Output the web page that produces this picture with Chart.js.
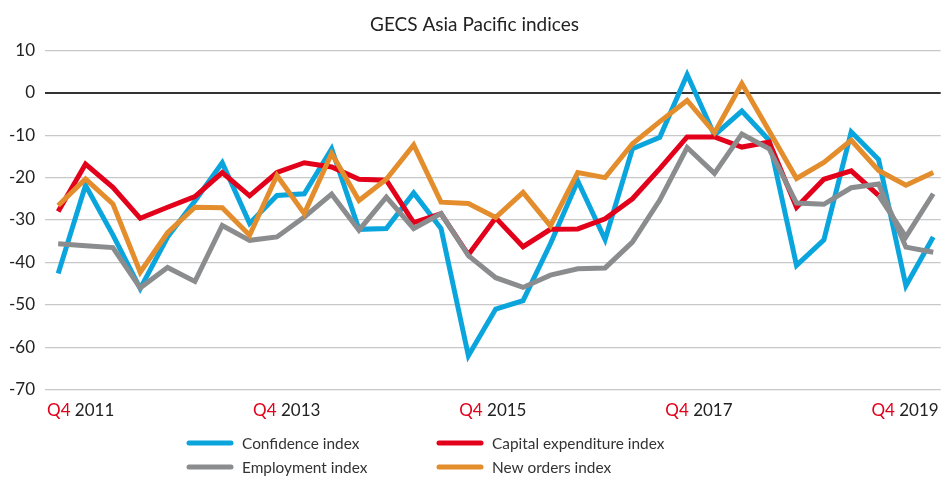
<!DOCTYPE html>
<html>
<head>
<meta charset="utf-8">
<script src="https://cdn.jsdelivr.net/npm/chart.js@4"></script>
<style>
  html, body { margin: 0; padding: 0; background: #fff; }
  #wrap { width: 949px; height: 478px; position: relative; }
</style>
</head>
<body>
<div id="wrap"><canvas id="gecsChart"></canvas></div>
<script>
// quarters Q4 2011 .. Q4 2019
const quarters = [
  'Q4 2011', 'Q1 2012', 'Q2 2012', 'Q3 2012', 'Q4 2012',
  'Q1 2013', 'Q2 2013', 'Q3 2013', 'Q4 2013',
  'Q1 2014', 'Q2 2014', 'Q3 2014', 'Q4 2014',
  'Q1 2015', 'Q2 2015', 'Q3 2015', 'Q4 2015',
  'Q1 2016', 'Q2 2016', 'Q3 2016', 'Q4 2016',
  'Q1 2017', 'Q2 2017', 'Q3 2017', 'Q4 2017',
  'Q1 2018', 'Q2 2018', 'Q3 2018', 'Q4 2018',
  'Q1 2019', 'Q2 2019', 'Q3 2019', 'Q4 2019'
];
const xTickLabels = ['Q4 2011', 'Q4 2013', 'Q4 2015', 'Q4 2017', 'Q4 2019'];
const yTicks = [10, 0, -10, -20, -30, -40, -50, -60, -70];

const confidence = [-42.6, -21.8, -33.5, -46.2, -34, -25.5, -16.5, -30.8, -24.2, -23.8, -13.2, -32.2, -32,
  -23.6, -32, -62, -51, -49, -35.6, -20.8, -34.6, -13.2, -10.5, 4.3, -10, -4.3, -11.2, -40.7, -34.7,
  -9.2, -15.7, -45.5, -34];
const capex = [-28, -16.8, -22.3, -29.6, -27, -24.5, -18.8, -24.3, -18.8, -16.5, -17.5, -20.4, -20.6,
  -30.6, -28.5, -38.2, -29.5, -36.3, -32.2, -32.1, -29.7, -25, -17.9, -10.4, -10.4, -12.8, -11.6, -27,
  -20.4, -18.4, -24.2, -34, -23.8];
const employment = [-35.6, -36.1, -36.5, -46, -41.2, -44.5, -31.3, -34.8, -34, -29.3, -23.9, -32.4, -24.6,
  -32, -28.5, -38.4, -43.6, -45.9, -43, -41.5, -41.3, -35.2, -25.3, -12.9, -19, -9.7, -13.2, -26, -26.3,
  -22.4, -21.5, -36.4, -37.6];
const newOrders = [-26.6, -20.3, -26.2, -42.3, -33, -27, -27.1, -33.6, -19.5, -28.5, -14.3, -25.4, -20.4,
  -12.3, -25.8, -26.1, -29.4, -23.5, -31.4, -18.8, -20, -12, -6.8, -1.8, -9.4, 2.2, -9, -20.2, -16.4,
  -11.2, -18.3, -21.8, -18.8];

const BLUE = '#0aa5dd', RED = '#e3001b', GREY = '#8a8c8e', ORANGE = '#e38d2d';
const FONT = 'Lato, "Noto Sans", sans-serif';

const toPoints = arr => arr.map((v, i) => ({ x: i, y: v }));

// x labels: red "Q4", dark year
const quarterTicks = {
  id: 'quarterTicks',
  afterDraw(chart) {
    const s = chart.scales.x2;
    const ctx = chart.ctx;
    ctx.save();
    ctx.font = '17px ' + FONT;
    ctx.textBaseline = 'middle';
    ctx.textAlign = 'left';
    s.ticks.forEach((t, i) => {
      const parts = xTickLabels[i].split(' ');
      const q = parts[0] + ' ';
      const w1 = ctx.measureText(q).width;
      const w2 = ctx.measureText(parts[1]).width;
      const x = s.getPixelForValue(t.value) - (w1 + w2) / 2;
      const y = s.top + 21;
      ctx.fillStyle = RED;
      ctx.fillText(q, x, y);
      ctx.fillStyle = '#222';
      ctx.fillText(parts[1], x + w1, y);
    });
    ctx.restore();
  }
};

// two column legend under the chart
const gridLegend = {
  id: 'gridLegend',
  afterDraw(chart) {
    const ctx = chart.ctx;
    const cols = [187, 437];
    const rows = [443, 467];
    ctx.save();
    chart.data.datasets.forEach((ds, i) => {
      const x = cols[i % 2];
      const y = rows[Math.floor(i / 2)];
      ctx.strokeStyle = ds.borderColor;
      ctx.lineWidth = 5;
      ctx.lineCap = 'round';
      ctx.beginPath();
      ctx.moveTo(x + 2, y);
      ctx.lineTo(x + 44, y);
      ctx.stroke();
      ctx.fillStyle = '#333';
      ctx.font = '15.4px ' + FONT;
      ctx.textBaseline = 'middle';
      ctx.fillText(ds.label, x + 55, y + 1);
    });
    ctx.restore();
  }
};

new Chart(document.getElementById('gecsChart'), {
  type: 'line',
  data: {
    datasets: [
      { label: 'Confidence index', data: toPoints(confidence), borderColor: BLUE, order: 4 },
      { label: 'Capital expenditure index', data: toPoints(capex), borderColor: RED, order: 3,
        segment: { borderColor: c => c.p0DataIndex >= 30 ? GREY : undefined } },
      { label: 'Employment index', data: toPoints(employment), borderColor: GREY, order: 2 },
      { label: 'New orders index', data: toPoints(newOrders), borderColor: ORANGE, order: 1 }
    ]
  },
  options: {
    responsive: true,
    maintainAspectRatio: false,
    animation: false,
    layout: { padding: { top: 0, left: 0, right: 0, bottom: 40 } },
    elements: {
      line: { borderWidth: 5, tension: 0, fill: false },
      point: { radius: 0, hoverRadius: 0 }
    },
    plugins: {
      legend: { display: false },
      tooltip: { enabled: false },
      title: {
        display: true,
        text: 'GECS Asia Pacific indices',
        color: '#222',
        font: { family: FONT, size: 19, weight: 'normal' },
        padding: { top: 13.6, bottom: 14 }
      }
    },
    scales: {
      x: {
        type: 'linear',
        display: false,
        min: -0.482,
        max: 32.272
      },
      x2: {
        type: 'linear',
        position: 'bottom',
        min: -0.173,
        max: 4.173,
        grid: { display: false },
        border: { display: false },
        afterBuildTicks: s => { s.ticks = xTickLabels.map((_, i) => ({ value: i })); },
        ticks: {
          padding: 10,
          color: 'rgba(0,0,0,0)',
          font: { family: FONT, size: 17 },
          maxRotation: 0,
          autoSkip: false,
          callback: (v, i) => xTickLabels[i]
        }
      },
      y: {
        min: -70,
        max: 10,
        afterFit: s => { s.width = 45; },
        afterBuildTicks: s => { s.ticks = yTicks.map(v => ({ value: v })); },
        border: { display: false },
        grid: {
          drawTicks: false,
          color: c => c.tick.value === 0 ? '#333' : '#c8c8c8',
          lineWidth: c => c.tick.value === 0 ? 2 : 1.3
        },
        ticks: {
          padding: 10,
          color: '#222',
          font: { family: FONT, size: 17 }
        }
      }
    }
  },
  plugins: [quarterTicks, gridLegend]
});
</script>
</body>
</html>
